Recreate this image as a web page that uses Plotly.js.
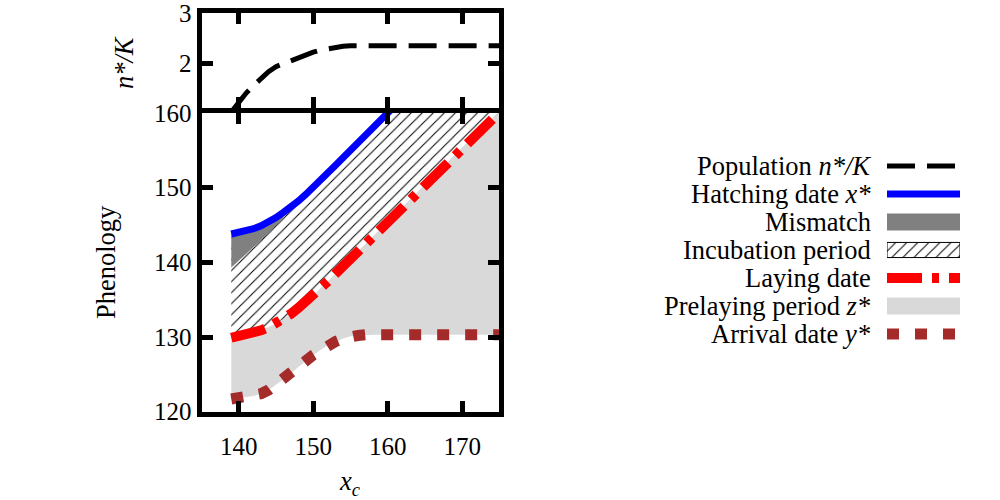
<!DOCTYPE html>
<html>
<head>
<meta charset="utf-8">
<script src="https://cdn.plot.ly/plotly-3.0.1.min.js"></script>
<style>html,body{margin:0;padding:0;background:#fff;}#chart{width:1000px;height:500px;}</style>
</head>
<body>
<div id="chart"></div>
<script>
// ---- data ----
const xs = [139,140,141,142,143,144,145,146,147,148,149,150,151,152,153,154,155,156,157,158,159,160,162,164,166,168,170,172,174,175];
const hatching = [143.8,144.0,144.2,144.5,144.9,145.4,146.0,146.7,147.4,148.2,149.1,150.0,151.0,152.0,153.0,154.0,155.0,156.0,157.0,158.0,159.0,160.0,162.0,164.0,166.0,168.0,170.0,172.0,174.0,175.0];
const laying = [129.9,130.1,130.3,130.6,130.9,131.3,131.8,132.4,133.1,133.9,134.7,135.6,136.5,137.5,138.5,139.5,140.5,141.5,142.5,143.5,144.5,145.5,147.5,149.5,151.5,153.5,155.4,157.3,159.2,160.1];
const arrival = [121.7,121.8,122.0,122.1,122.4,122.9,123.6,124.3,125.1,126.0,126.8,127.6,128.3,128.9,129.4,129.8,130.1,130.2,130.3,130.3,130.3,130.3,130.3,130.3,130.3,130.3,130.3,130.3,130.3,130.3];
const mmX = [139,140,141,142,143,144,145,146];
const mmHigh = [143.8,144.0,144.2,144.5,144.9,145.4,146.0,146.7];
const mmLow = [139.3,140.2,141.1,142.1,143.0,143.9,144.9,146.0];
const popX = [139,140,141,142,143,144,145,146,147,148,149,150,151,152,153,154,155,156,160,165,170,175];
const pop = [1.02,1.22,1.40,1.55,1.70,1.83,1.93,1.99,2.05,2.11,2.17,2.22,2.26,2.29,2.32,2.34,2.35,2.35,2.35,2.35,2.35,2.35];
const xTicks = [140,150,160,170];
const yTicks = [120,130,140,150,160];
const popTicks = [2,3];
const legendLabels = ['Population <i>n*/K</i>','Hatching date <i>x*</i>','Mismatch','Incubation period','Laying date','Prelaying period <i>z*</i>','Arrival date <i>y*</i>'];

// ---- styles ----
const FONT = '"Liberation Serif", "Times New Roman", serif';
const FS = 25;   // tick labels
const FT = 26.5; // titles and legend
const GREY = '#808080', LIGHT = '#d9d9d9', BROWN = '#a52a2a';
const popDash = '28px,12px', layDash = '35px,10px,7px,10px', arrDash = '12px,16px';
const hatch = {shape:'/', size:7.8, solidity:0.13, fgcolor:'black', bgcolor:'white', fillmode:'replace'};

function band(x, lo, hi){
  return {x: x.concat(x.slice().reverse()), y: lo.concat(hi.slice().reverse())};
}
const pre = band(xs, arrival, laying);
const inc = band(xs, laying, hatching);
const mm = band(mmX, mmLow, mmHigh);

const traces = [
  {x:pre.x, y:pre.y, xaxis:'x', yaxis:'y', mode:'lines', fill:'toself', fillcolor:LIGHT, line:{width:0,color:LIGHT}, hoverinfo:'skip'},
  {x:inc.x, y:inc.y, xaxis:'x', yaxis:'y', mode:'lines', fill:'toself', fillcolor:'white', fillpattern:hatch, line:{width:0,color:'white'}, hoverinfo:'skip'},
  {x:mm.x, y:mm.y, xaxis:'x', yaxis:'y', mode:'lines', fill:'toself', fillcolor:GREY, line:{width:0,color:GREY}, hoverinfo:'skip'},
  {x:xs, y:hatching, xaxis:'x', yaxis:'y', mode:'lines', line:{color:'#0000ff', width:7}},
  {x:xs, y:laying, xaxis:'x', yaxis:'y', mode:'lines', line:{color:'#ff0000', width:10, dash:layDash}},
  {x:xs, y:arrival, xaxis:'x', yaxis:'y', mode:'lines', line:{color:BROWN, width:11, dash:arrDash}},
  // empty trace so the label-only overlay axis gets drawn
  {x:[], y:[], xaxis:'x4', yaxis:'y', mode:'lines', hoverinfo:'skip'},
  {x:popX, y:pop, xaxis:'x2', yaxis:'y2', mode:'lines', line:{color:'black', width:5, dash:popDash}},
  // legend keys (hidden subplot), row 6 = top
  {x:[0,1], y:[6,6], xaxis:'x3', yaxis:'y3', mode:'lines', line:{color:'black', width:5, dash:popDash}},
  {x:[0,1], y:[5,5], xaxis:'x3', yaxis:'y3', mode:'lines', line:{color:'#0000ff', width:7}},
  {x:[0,1,1,0,0], y:[3.7,3.7,4.3,4.3,3.7], xaxis:'x3', yaxis:'y3', mode:'lines', fill:'toself', fillcolor:GREY, line:{width:0,color:GREY}},
  {x:[0,1,1,0,0], y:[2.73,2.73,3.27,3.27,2.73], xaxis:'x3', yaxis:'y3', mode:'lines', fill:'toself', fillcolor:'white', fillpattern:hatch, line:{width:1,color:'black'}},
  {x:[0,1], y:[2,2], xaxis:'x3', yaxis:'y3', mode:'lines', line:{color:'#ff0000', width:10, dash:layDash}},
  {x:[0,1,1,0,0], y:[0.7,0.7,1.3,1.3,0.7], xaxis:'x3', yaxis:'y3', mode:'lines', fill:'toself', fillcolor:LIGHT, line:{width:0,color:LIGHT}},
  {x:[0,1], y:[0,0], xaxis:'x3', yaxis:'y3', mode:'lines', line:{color:BROWN, width:11, dash:arrDash}}
];

const axCommon = {showline:true, linecolor:'black', linewidth:5, mirror:'ticks', ticks:'inside', ticklen:11, tickwidth:5, tickcolor:'black', showgrid:false, zeroline:false, fixedrange:true, tickfont:{family:FONT, size:FS, color:'black'}};

const annotations = legendLabels.map((t,i)=>({xref:'x3', yref:'y3', x:0, y:6-i, xanchor:'right', yanchor:'middle', xshift:-14, text:t, showarrow:false, font:{family:FONT, size:FT, color:'black'}}));
annotations.push({xref:'paper', yref:'paper', x:0.106, y:0.476, text:'Phenology', textangle:-90, showarrow:false, xanchor:'center', yanchor:'middle', font:{family:FONT, size:FT, color:'black'}});
annotations.push({xref:'paper', yref:'paper', x:0.124, y:0.874, text:'<i>n*/K</i>', textangle:-90, showarrow:false, xanchor:'center', yanchor:'middle', font:{family:FONT, size:FT, color:'black'}});
annotations.push({xref:'paper', yref:'paper', x:0.35, y:0.034, text:'<i>x</i><sub><i>c</i></sub>', showarrow:false, xanchor:'center', yanchor:'middle', font:{family:FONT, size:FT, color:'black'}});

const layout = {
  width:1000, height:500, margin:{l:0,r:0,t:0,b:0}, showlegend:false,
  paper_bgcolor:'white', plot_bgcolor:'white',
  font:{family:FONT, size:FS, color:'black'},
  xaxis: Object.assign({}, axCommon, {domain:[0.2015,0.4994], range:[135,175], tickvals:xTicks, anchor:'y', showticklabels:false}),
  // label-only axis overlaying the bottom x axis (pushes tick labels a little lower)
  xaxis4: {overlaying:'x', range:[135,175], anchor:'y', side:'bottom', showline:false, showgrid:false, zeroline:false, fixedrange:true,
           ticks:'outside', ticklen:12, tickwidth:1, tickcolor:'rgba(0,0,0,0)', tickvals:xTicks, tickfont:{family:FONT, size:FS, color:'black'}},
  yaxis: Object.assign({}, axCommon, {domain:[0.1766,0.774], range:[120,160], tickvals:yTicks, anchor:'x'}),
  xaxis2: Object.assign({}, axCommon, {domain:[0.2015,0.4994], range:[135,175], tickvals:xTicks, showticklabels:false, anchor:'y2'}),
  yaxis2: Object.assign({}, axCommon, {domain:[0.784,0.9734], range:[1.1,3], tickvals:popTicks, anchor:'x2'}),
  xaxis3: {domain:[0.887,0.96], range:[0,1], visible:false, fixedrange:true, anchor:'y3'},
  yaxis3: {domain:[0.304,0.696], range:[-0.5,6.5], visible:false, fixedrange:true, anchor:'x3'},
  annotations: annotations
};

Plotly.newPlot('chart', traces, layout, {staticPlot:true, displayModeBar:false});
</script>
</body>
</html>
